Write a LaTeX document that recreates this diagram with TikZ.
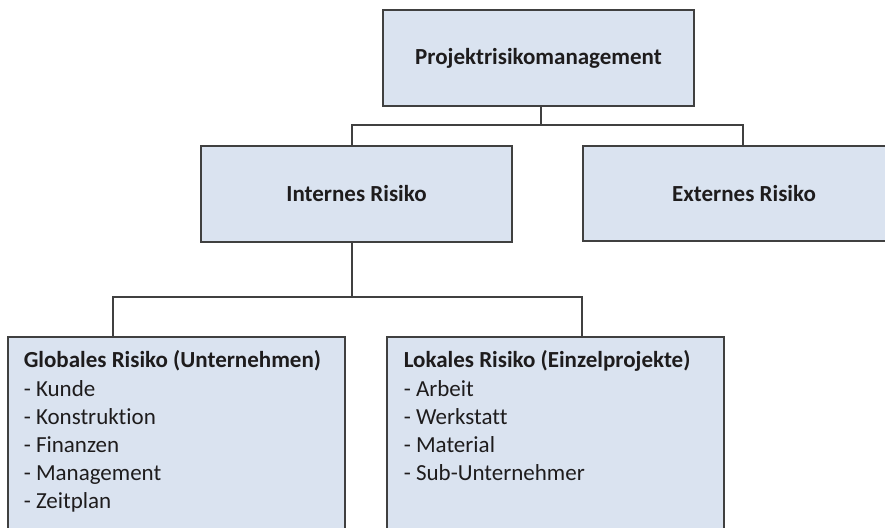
\documentclass[tikz,border=0pt]{standalone}
\usepackage{fontspec}
\setmainfont[Ligatures=NoCommon]{Carlito}
\definecolor{boxfill}{HTML}{DAE3F0}
\definecolor{boxline}{HTML}{404040}
\definecolor{textcol}{HTML}{1E1C1D}
\begin{document}
\begin{tikzpicture}[x=1pt,y=-1pt,
  box/.style={draw=boxline, line width=1.6pt, fill=boxfill, inner sep=0pt, text=textcol,
    font=\fontsize{23}{28.2}\selectfont},
  headbox/.style={box, font=\fontsize{23}{28.2}\selectfont\bfseries},
  conn/.style={draw=boxline, line width=1.6pt}]
\useasboundingbox (0,0) rectangle (885,527);
\clip (0,0) rectangle (885,527);
\fill[white] (0,0) rectangle (885,527);
\node[headbox, minimum width=311pt, minimum height=96pt] (top) at (538.5,58) {Projektrisikomanagement};
\node[headbox, minimum width=311pt, minimum height=96pt] (intern) at (356.5,194) {Internes Risiko};
\node[headbox, minimum width=322pt, minimum height=95pt] (extern) at (744,193.5) {Externes Risiko};
\node[box, anchor=north west, inner xsep=16pt, inner ysep=14pt] (global) at (7,336)
  {\parbox[c][200pt][t]{305pt}{\raggedright\textbf{Globales Risiko (Unternehmen)}\\
   - Kunde\\ - Konstruktion\\ - Finanzen\\ - Management\\ - Zeitplan}};
\node[box, anchor=north west, inner xsep=17pt, inner ysep=14pt] (lokal) at (386,336)
  {\parbox[c][200pt][t]{303pt}{\raggedright\textbf{Lokales Risiko (Einzelprojekte)}\\
   - Arbeit\\ - Werkstatt\\ - Material\\ - Sub-Unternehmer}};
\coordinate (j1) at (541,125);
\coordinate (ja) at (352,125);
\coordinate (jb) at (743,125);
\coordinate (j2) at (352,297);
\coordinate (jc) at (113,297);
\coordinate (jd) at (582,297);
\draw[conn] (top.south -| j1) -- (j1);
\draw[conn] (intern.north -| ja) -- (ja) -- (jb) -- (extern.north -| jb);
\draw[conn] (intern.south -| j2) -- (j2);
\draw[conn] (global.north -| jc) -- (jc) -- (jd) -- (lokal.north -| jd);
\end{tikzpicture}
\end{document}
